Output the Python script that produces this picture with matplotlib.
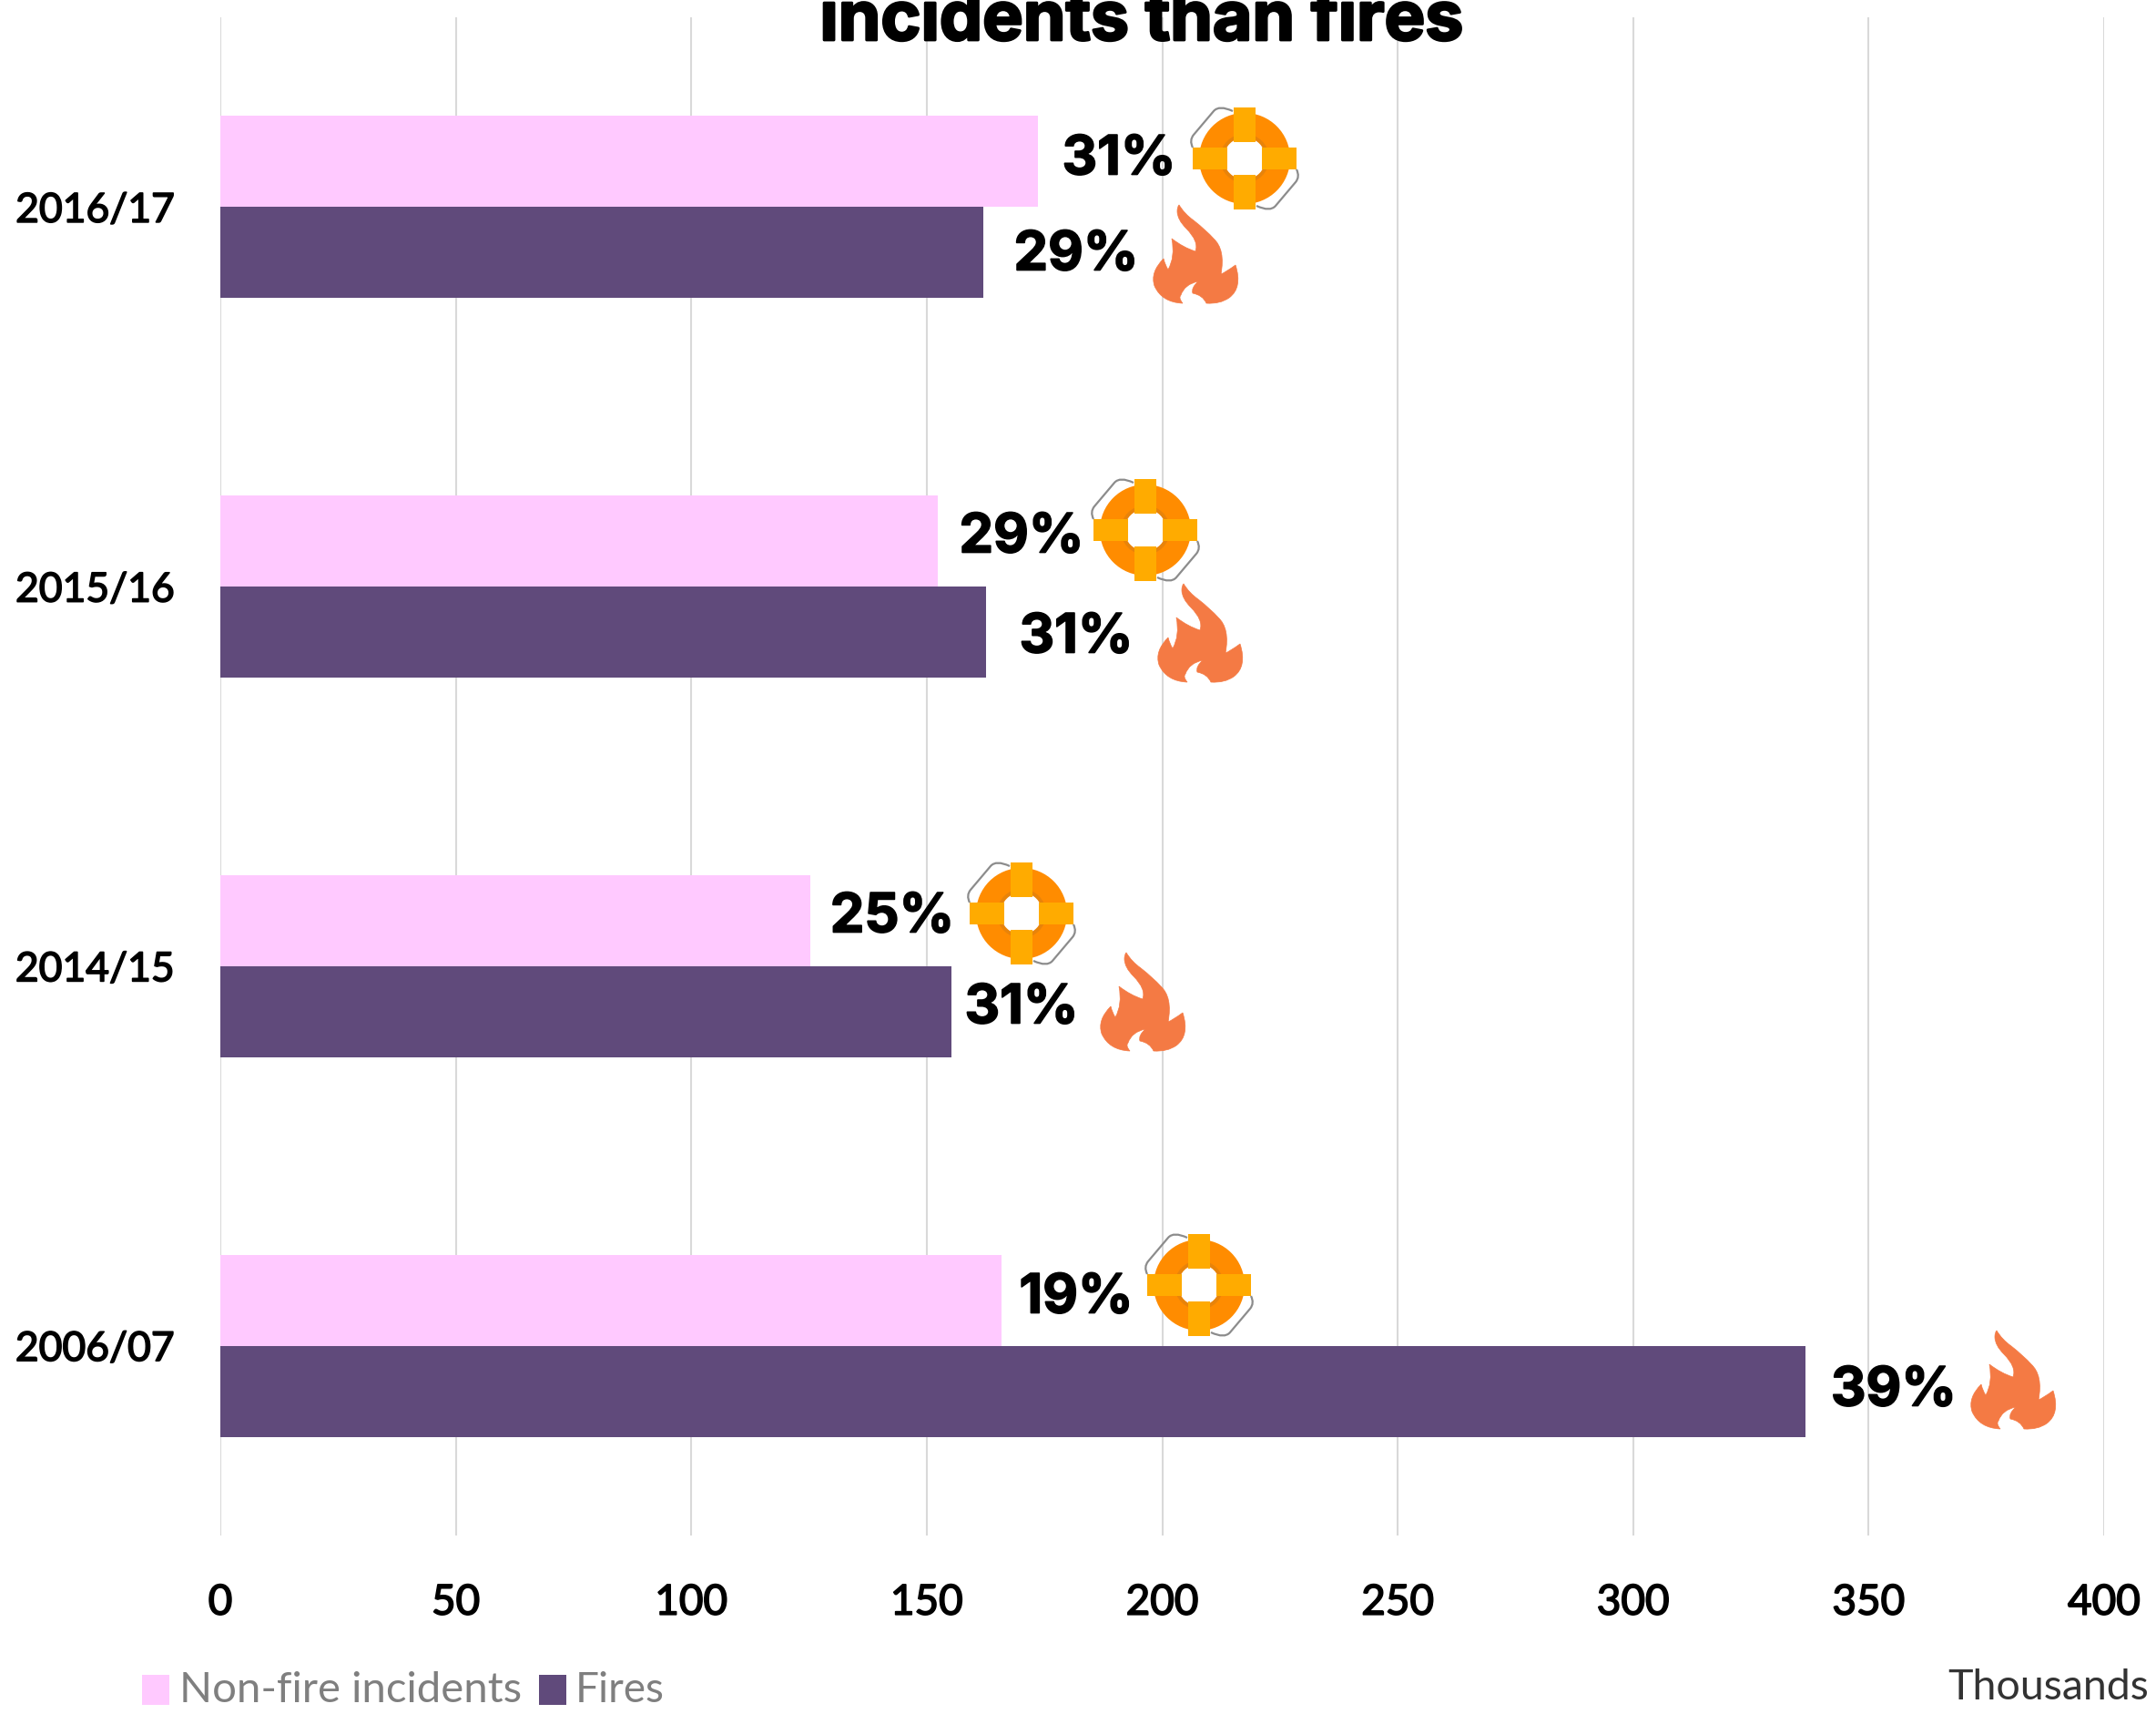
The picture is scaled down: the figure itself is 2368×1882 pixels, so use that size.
import matplotlib
matplotlib.use("Agg")
import matplotlib.pyplot as plt
import matplotlib.patheffects as pe
from matplotlib.path import Path
from matplotlib.patches import PathPatch, Circle, Rectangle

W, H = 2368, 1883

# ---- data ----
years = ["2016/17", "2015/16", "2014/15", "2006/07"]
non_fire = [173.7, 152.4, 125.3, 165.8]
fires = [162, 162.6, 155.3, 336.6]
non_fire_pct = ["31%", "29%", "25%", "19%"]
fires_pct = ["29%", "31%", "31%", "39%"]
x_ticks = [0, 50, 100, 150, 200, 250, 300, 350, 400]

# ---- layout (pixels) ----
nf_label_xy = [(1229, 177), (1122, 592), (980, 1009), (1182, 1427)]
f_label_xy = [(1182, 282), (1182, 702), (1122, 1109), (2080, 1529)]
buoy_xy = [(1367, 175), (1258, 583), (1122, 1004), (1317, 1412)]
flame_xy = [(1313, 280), (1318, 696), (1255, 1101), (2211, 1516)]

PINK, PURPLE = "#FFC9FF", "#604A7B"
GRID = "#D9D9D9"
ORANGE, YELLOW, FLAME = "#FF8C00", "#FFAB00", "#F47A44"
LABEL_FONT = "Inter"
TICK_FONT = "Lato"
thick = [pe.withStroke(linewidth=1.2, foreground="black")]
heavy = [pe.withStroke(linewidth=2.0, foreground="black")]

fig = plt.figure(figsize=(W / 100, H / 100), dpi=100, facecolor="white")

# main axes: spans gridlines x 242..2311, y 20..1687
ax = fig.add_axes([242 / W, 1 - 1687 / H, (2311 - 242) / W, (1687 - 20) / H])
y = range(len(years))
bh = 0.24
ax.barh([i - bh / 2 for i in y], non_fire, height=bh, color=PINK, zorder=2)
ax.barh([i + bh / 2 for i in y], fires, height=bh, color=PURPLE, zorder=2)
ax.set_xlim(0, 400)
ax.set_ylim(3.5, -0.5)
ax.set_xticks(x_ticks)
ax.set_yticks(list(y))
ax.set_yticklabels(years)
ax.grid(axis="x", color=GRID, lw=1.5, zorder=0)
ax.set_axisbelow(True)
for s in ax.spines.values():
    s.set_visible(False)
ax.tick_params(axis="x", length=0, pad=38, labelsize=33, labelcolor="black")
ax.tick_params(axis="y", length=0, pad=36, labelsize=32, labelcolor="black")
for t in ax.get_xticklabels() + ax.get_yticklabels():
    t.set_fontfamily(TICK_FONT)
    t.set_path_effects(thick)

# overlay in pixel coordinates
ov = fig.add_axes([0, 0, 1, 1], zorder=5)
ov.set_xlim(0, W)
ov.set_ylim(H, 0)
ov.axis("off")
ov.patch.set_alpha(0)

ov.text(1254, 45, "incidents than fires", ha="center", va="baseline",
        fontsize=54, fontweight="bold", family=LABEL_FONT, color="black",
        path_effects=heavy)

M, L, C, Z = Path.MOVETO, Path.LINETO, Path.CURVE3, Path.CLOSEPOLY
# flame outline as (control, end) pairs, in px relative to the icon centre
flame_start = (-18, -54)
flame_curves = [
    ((-12, -44), (-2, -37)), ((12, -26), (20, -17)), ((33, -5), (28, 22)),
    ((33, 20), (44, 12)),
    ((52, 37), (37, 48)), ((27, 55), (12, 54)), ((8, 45), (-3, 43)),
    ((-5, 37), (3, 30)), ((-12, 33), (-16, 45)), ((-19, 48), (-14, 54)),
    ((-37, 53), (-45, 35)), ((-50, 20), (-35, 5)), ((-33, 13), (-30, 17)),
    ((-22, 3), (-26, -17)), ((-13, -7), (0, -3)), ((4, -14), (-10, -28)),
    ((-20, -38), (-20, -47)), ((-20, -52), (-18, -54)),
]


def draw_flame(cx, cy):
    verts = [(cx + flame_start[0], cy + flame_start[1])]
    codes = [M]
    for ctrl, end in flame_curves:
        verts += [(cx + ctrl[0], cy + ctrl[1]), (cx + end[0], cy + end[1])]
        codes += [C, C]
    verts.append(verts[0])
    codes.append(Z)
    ov.add_patch(PathPatch(Path(verts, codes), fc=FLAME, ec=FLAME, lw=0.5))


strap = [(-57, -12), (-61, -20), (-56, -26), (-34, -52), (-28, -59), (-13, -52)]
strap_codes = [M, C, C, L, C, C]


def draw_buoy(cx, cy):
    for sign in (1, -1):
        verts = [(cx + sign * a, cy + sign * b) for a, b in strap]
        ov.add_patch(PathPatch(Path(verts, strap_codes), fc="none", ec="#8C8C8C", lw=1.6, zorder=2))
    ov.add_patch(Circle((cx, cy), 50, fc=ORANGE, ec="none", zorder=3))
    ov.add_patch(Circle((cx, cy), 27, fc="#E8830A", ec="none", zorder=3))
    ov.add_patch(Circle((cx, cy), 23, fc="white", ec="none", zorder=3))
    for dx, dy, w, h in [(-12, -56, 24, 38), (-12, 18, 24, 38),
                         (-57, -12, 38, 24), (19, -12, 38, 24)]:
        ov.add_patch(Rectangle((cx + dx, cy + dy), w, h, fc=YELLOW, ec="none", zorder=4))


for i in y:
    ov.text(*nf_label_xy[i], non_fire_pct[i], ha="center", va="center", fontsize=43,
            fontweight="bold", family=LABEL_FONT, color="black", path_effects=thick)
    ov.text(*f_label_xy[i], fires_pct[i], ha="center", va="center", fontsize=43,
            fontweight="bold", family=LABEL_FONT, color="black", path_effects=thick)
    draw_buoy(*buoy_xy[i])
    draw_flame(*flame_xy[i])

# legend and unit
ov.add_patch(Rectangle((156, 1840), 30, 33, fc=PINK, ec="none"))
ov.text(197, 1856, "Non-fire incidents", ha="left", va="center", fontsize=34,
        family=TICK_FONT, color="#7F7F7F")
ov.add_patch(Rectangle((592, 1840), 30, 33, fc=PURPLE, ec="none"))
ov.text(632, 1856, "Fires", ha="left", va="center", fontsize=33,
        family=TICK_FONT, color="#7F7F7F")
ov.text(2360, 1853, "Thousands", ha="right", va="center", fontsize=33.5,
        family=TICK_FONT, color="#333333")

fig.savefig("out.png", dpi=100, facecolor="white")
